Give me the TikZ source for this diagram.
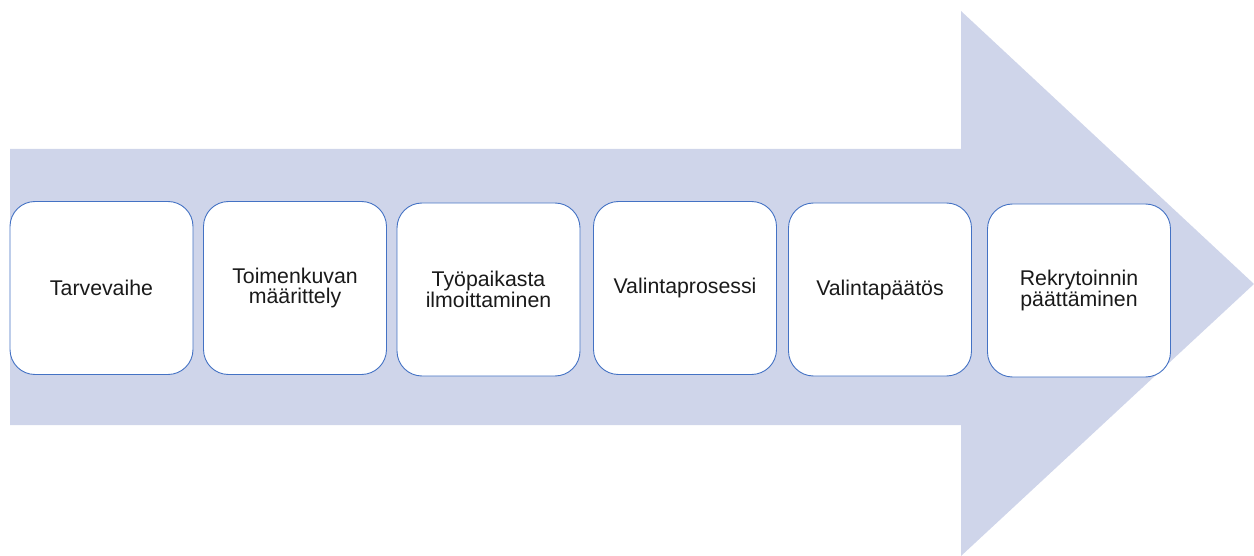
\documentclass[tikz,border=0pt]{standalone}
\usepackage{fontspec}
\setmainfont{Liberation Sans}
\definecolor{arrowfill}{HTML}{CFD5EA}
\definecolor{boxline}{HTML}{4472C4}
\definecolor{txt}{HTML}{1A1A1A}
\begin{document}
\begin{tikzpicture}[x=1pt,y=-1pt,
  stage/.style={draw=boxline, line width=0.9pt, fill=white, rounded corners=25pt,
    minimum width=183pt, minimum height=173pt, inner sep=0pt, outer sep=0pt,
    align=center, text=txt, font=\fontsize{21.3}{20.5}\selectfont}]
  \useasboundingbox (0,0) rectangle (1254,556);
  % the big process arrow behind the stages
  \fill[arrowfill] (10,149) -- (961,149) -- (961,11) -- (1254,284)
    -- (961,556) -- (961,425) -- (10,425) -- cycle;
  % the six stages
  \node[stage] (s1) at (101.5,288) {Tarvevaihe};
  \node[stage] (s2) at (295,288) {Toimenkuvan\\määrittely};
  \node[stage] (s3) at (488.5,289.5) {Työpaikasta\\ilmoittaminen};
  \node[stage] (s4) at (685,288) {Valintaprosessi};
  \node[stage] (s5) at (880,289.5) {Valintapäätös};
  \node[stage] (s6) at (1079,290.5) {Rekrytoinnin\\päättäminen};
\end{tikzpicture}
\end{document}
